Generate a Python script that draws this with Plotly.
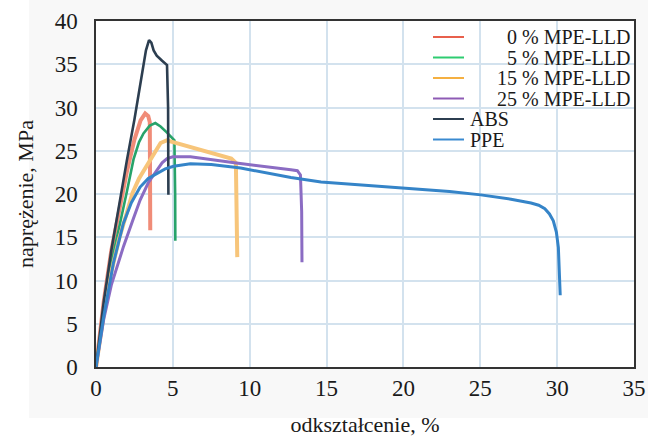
import plotly.graph_objects as go

# ---------------- data ----------------
names = ["0 % MPE-LLD", "5 % MPE-LLD", "15 % MPE-LLD", "25 % MPE-LLD", "ABS", "PPE"]

x_mpe0 = [0, 0.5, 1.0, 1.5, 2.0, 2.5, 2.9, 3.2, 3.4, 3.5, 3.52, 3.53]
y_mpe0 = [0, 7.5, 13.5, 18.0, 22.5, 26.3, 28.5, 29.3, 29.0, 28.3, 22.0, 15.8]

x_mpe5 = [0, 0.5, 1.0, 1.5, 1.78, 2.0, 2.44, 2.8, 3.09, 3.5, 3.86, 4.2, 4.62, 5.1, 5.15, 5.16]
y_mpe5 = [0, 6.8, 12.0, 16.0, 18.2, 20.2, 24.0, 26.0, 27.0, 27.9, 28.2, 27.8, 27.1, 26.2, 20.0, 14.6]

x_mpe15 = [0, 0.5, 1.0, 1.5, 2.0, 2.37, 2.8, 3.3, 3.8, 4.2, 4.6, 5.0, 6.0, 7.0, 8.0, 8.8, 9.1, 9.17, 9.19]
y_mpe15 = [0, 6.0, 11.0, 14.8, 17.8, 20.1, 21.8, 23.2, 24.8, 25.9, 26.2, 26.0, 25.4, 25.0, 24.5, 24.1, 23.6, 18.0, 12.7]

x_mpe25 = [0, 0.5, 1.0, 1.8, 2.4, 2.87, 3.4, 3.96, 4.3, 4.62, 5.0, 6.14, 9.0, 12.68, 13.1, 13.3, 13.38, 13.4]
y_mpe25 = [0, 5.5, 9.5, 14.0, 17.0, 19.3, 21.3, 22.8, 23.6, 24.1, 24.3, 24.3, 23.6, 22.8, 22.7, 22.2, 18.0, 12.1]

x_abs = [0, 0.5, 1.0, 1.5, 2.0, 2.5, 3.0, 3.25, 3.45, 3.6, 3.75, 3.95, 4.3, 4.62, 4.69, 4.71]
y_abs = [0, 7.5, 13.5, 18.8, 23.8, 28.6, 33.8, 36.6, 37.8, 37.5, 36.6, 36.0, 35.4, 34.9, 30.0, 19.9]

x_ppe = [0, 0.5, 1.13, 1.78, 2.3, 2.87, 3.4, 3.96, 4.5, 5.05, 6.14, 7.5, 9.41, 12.68, 14.64, 17.5,
         20.25, 23.0, 25.03, 27.0, 28.3, 28.8, 29.2, 29.5, 29.75, 29.95, 30.08, 30.16, 30.2]
y_ppe = [0, 5.8, 12.0, 16.6, 19.0, 20.8, 21.8, 22.4, 22.9, 23.2, 23.5, 23.4, 23.0, 21.9, 21.4, 21.0,
         20.66, 20.3, 19.9, 19.4, 18.96, 18.7, 18.3, 17.7, 16.9, 15.6, 13.8, 11.0, 8.3]

x_ticks = [0, 5, 10, 15, 20, 25, 30, 35]
y_ticks = [0, 5, 10, 15, 20, 25, 30, 35, 40]

x_title = "odkształcenie, %"
y_title = "naprężenie, MPa"

# ---------------- styles ----------------
colors = ["#f08c78", "#27a36a", "#f7c57a", "#8b6cc3", "#2c3e50", "#3584c8"]
widths = [4, 2.6, 4, 3, 2.6, 3]
FONT = "Liberation Serif"

series = [(x_mpe0, y_mpe0), (x_mpe5, y_mpe5), (x_mpe15, y_mpe15),
          (x_mpe25, y_mpe25), (x_abs, y_abs), (x_ppe, y_ppe)]

fig = go.Figure()
for (xs, ys), nm, c, w in zip(series, names, colors, widths):
    fig.add_trace(go.Scatter(x=xs, y=ys, mode="lines", name=nm,
                             line=dict(color=c, width=w), showlegend=False))

W, H = 648, 437
ML, MR, MT, MB = 96, 648 - 634, 21, 437 - 367
pw, ph = W - ML - MR, H - MT - MB


def px2paper(px, py):
    return (px - ML) / pw, (H - MB - py) / ph


# light grey panel behind the chart, as in the reference
gx0, gy0 = px2paper(29, 0)
gx1, gy1 = px2paper(648, 418)
shapes = [dict(type="rect", xref="paper", yref="paper", x0=gx0, x1=gx1, y0=gy1, y1=gy0,
               fillcolor="#f8f8f8", line=dict(width=0), layer="below")]
px0, py0 = px2paper(96, 367)
px1, py1 = px2paper(634, 21)
shapes.append(dict(type="rect", xref="paper", yref="paper", x0=px0, x1=px1, y0=py0, y1=py1,
                   fillcolor="white", line=dict(width=0), layer="below"))

# manual legend (positioned like the reference)
rows_y = [37, 57.5, 78, 98.5, 119, 139.5]
annotations = []
legend_colors = ["#e8604c", "#2ecc71", "#f5b041", "#8e5bb5", "#2c3e50", "#3a8ad0"]
for i, (nm, c) in enumerate(zip(names, legend_colors)):
    x0, yy = px2paper(433, rows_y[i])
    x1, _ = px2paper(464, rows_y[i])
    shapes.append(dict(type="line", xref="paper", yref="paper", x0=x0, x1=x1, y0=yy, y1=yy,
                       line=dict(color=c, width=2)))
    if i < 4:
        tx, _ = px2paper(632, rows_y[i])
        anchor = "right"
    else:
        tx, _ = px2paper(468, rows_y[i])
        anchor = "left"
    annotations.append(dict(x=tx, y=yy, xref="paper", yref="paper", text=nm, showarrow=False,
                            xanchor=anchor, yanchor="middle",
                            font=dict(family=FONT, size=20, color="#1a1a1a")))

fig.update_layout(
    width=W, height=H,
    margin=dict(l=ML, r=MR, t=MT, b=MB, autoexpand=False),
    paper_bgcolor="white", plot_bgcolor="rgba(0,0,0,0)",
    font=dict(family=FONT, size=23, color="#1a1a1a"),
    shapes=shapes, annotations=annotations,
    showlegend=False,
)
fig.update_xaxes(range=[0, 35], tickvals=x_ticks, ticktext=[str(v) for v in x_ticks],
                 showgrid=True, gridcolor="#d3e2ee", gridwidth=2, zeroline=False,
                 showline=True, linecolor="#333333", linewidth=1.5, mirror=True,
                 ticks="", ticklabelstandoff=0, automargin=True,
                 tickfont=dict(family=FONT, size=23),
                 title=dict(text=x_title, standoff=32, font=dict(family=FONT, size=22)))
fig.update_yaxes(range=[0, 40], tickvals=y_ticks, ticktext=[str(v) for v in y_ticks],
                 showgrid=True, gridcolor="#d3e2ee", gridwidth=2, zeroline=False,
                 showline=True, linecolor="#333333", linewidth=1.5, mirror=True,
                 ticks="", ticklabelstandoff=12, automargin=False,
                 tickfont=dict(family=FONT, size=23),
                 title=dict(text=y_title, font=dict(family=FONT, size=22)))

fig.write_html("out.html", config={"displayModeBar": False},
               post_script="document.body.style.margin='0';document.body.style.overflow='hidden';")
